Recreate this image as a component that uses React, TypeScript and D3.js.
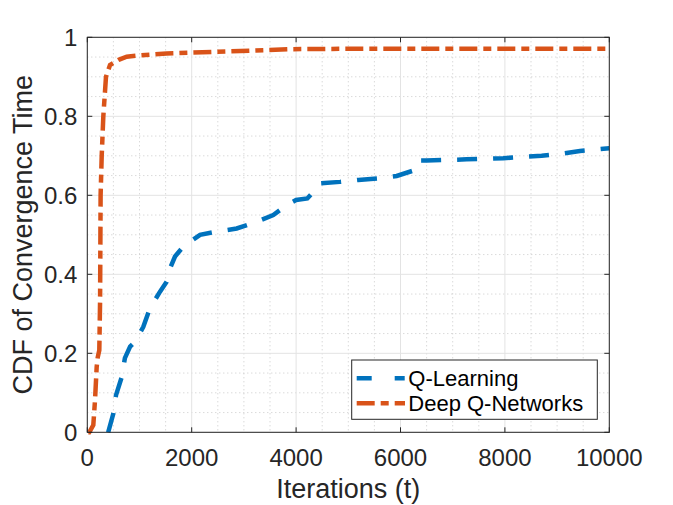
import * as d3 from 'd3';

const W = 673;
const H = 505;

// Q-Learning CDF (iterations, cdf)
const qlIter = [400, 500, 550, 660, 720, 820, 915, 1073, 1200, 1393, 1520, 1552, 1600, 1680, 1839, 2160, 2479, 2862, 3245, 3563, 3818, 4000, 4215, 4330, 4445, 4841, 5192, 5575, 5927, 6278, 6341, 6500, 7267, 7969, 8704, 9119, 9438, 10000];
const qlCdf = [0, 0.048, 0.094, 0.14, 0.188, 0.217, 0.229, 0.267, 0.314, 0.356, 0.381, 0.394, 0.42, 0.445, 0.47, 0.5, 0.508, 0.516, 0.533, 0.55, 0.575, 0.588, 0.592, 0.609, 0.63, 0.634, 0.639, 0.643, 0.649, 0.664, 0.688, 0.688, 0.691, 0.694, 0.7, 0.706, 0.712, 0.719];

// Deep Q-Networks CDF
const dqnIter = [20, 38, 115, 148, 180, 200, 230, 245, 255, 276, 307, 358, 435, 600, 755, 1000, 1520, 2670, 3940, 5000, 10000];
const dqnCdf = [0, 0, 0.018, 0.082, 0.166, 0.19, 0.208, 0.335, 0.6, 0.7, 0.8, 0.9, 0.93, 0.943, 0.951, 0.954, 0.959, 0.964, 0.97, 0.971, 0.971];

const xTicks = [0, 2000, 4000, 6000, 8000, 10000];
const yTicks = [0, 0.2, 0.4, 0.6, 0.8, 1];
const seriesNames = ['Q-Learning', 'Deep Q-Networks'];

const FONT = '"Liberation Sans", Arial, Helvetica, sans-serif';
const AXIS = '#262626';

export default function App() {
  const left = 87.3, right = 609.3, top = 37.3, bottom = 432.3;
  const x = d3.scaleLinear().domain([0, 10000]).range([left, right]);
  const y = d3.scaleLinear().domain([0, 1]).range([bottom, top]);

  const xMinor = d3.range(0, 10001, 500).filter(v => v % 2000 !== 0);
  const yMinor = d3.range(0, 21).map(i => i * 0.05).filter((v, i) => i % 4 !== 0);

  const line = d3.line<[number, number]>().x(d => x(d[0])).y(d => y(d[1]));
  const qlPath = line(qlIter.map((t, i) => [t, qlCdf[i]]))!;
  const dqnPath = line(dqnIter.map((t, i) => [t, dqnCdf[i]]))!;

  const lg = { x0: 351.7, y0: 360, x1: 597.3, y1: 419.3 };

  return (
    <svg width={W} height={H} style={{ position: 'absolute', left: 0, top: 0, background: '#fff' }}>
      <rect x={0} y={0} width={W} height={H} fill="#fff" />
      {/* minor grid */}
      <g stroke="#bdbdbd" strokeWidth={0.8} strokeDasharray="1,3">
        {xMinor.map(v => <line key={'xm' + v} x1={x(v)} x2={x(v)} y1={top} y2={bottom} />)}
        {yMinor.map(v => <line key={'ym' + v} x1={left} x2={right} y1={y(v)} y2={y(v)} />)}
      </g>
      {/* major grid */}
      <g stroke="#e3e3e3" strokeWidth={1}>
        {xTicks.map(v => <line key={'xg' + v} x1={x(v)} x2={x(v)} y1={top} y2={bottom} />)}
        {yTicks.map(v => <line key={'yg' + v} x1={left} x2={right} y1={y(v)} y2={y(v)} />)}
      </g>
      {/* series */}
      <path d={qlPath} fill="none" stroke="#0072BD" strokeWidth={4.5} strokeDasharray="20,16" />
      <path d={dqnPath} fill="none" stroke="#D95319" strokeWidth={4.5} strokeDasharray="18,6,8,6" />
      {/* box and ticks */}
      <rect x={left} y={top} width={right - left} height={bottom - top} fill="none" stroke={AXIS} strokeWidth={1} />
      <g stroke={AXIS} strokeWidth={1}>
        {xTicks.map(v => (
          <g key={'xt' + v}>
            <line x1={x(v)} x2={x(v)} y1={bottom} y2={bottom - 5} />
            <line x1={x(v)} x2={x(v)} y1={top} y2={top + 5} />
          </g>
        ))}
        {yTicks.map(v => (
          <g key={'yt' + v}>
            <line x1={left} x2={left + 5} y1={y(v)} y2={y(v)} />
            <line x1={right} x2={right - 5} y1={y(v)} y2={y(v)} />
          </g>
        ))}
      </g>
      <g fontFamily={FONT} fontSize={24} fill={AXIS}>
        {xTicks.map(v => (
          <text key={'xl' + v} x={x(v)} y={466} textAnchor="middle">{String(v)}</text>
        ))}
        {yTicks.map(v => (
          <text key={'yl' + v} x={left - 10} y={y(v) + 8.5} textAnchor="end">{String(v)}</text>
        ))}
      </g>
      <text x={(left + right) / 2} y={498} textAnchor="middle" fontFamily={FONT} fontSize={27} fill={AXIS}>Iterations (t)</text>
      <text transform={`translate(32,${(top + bottom) / 2}) rotate(-90)`} textAnchor="middle" fontFamily={FONT} fontSize={27} fill={AXIS}>CDF of Convergence Time</text>
      {/* legend */}
      <rect x={lg.x0} y={lg.y0} width={lg.x1 - lg.x0} height={lg.y1 - lg.y0} fill="#fff" stroke={AXIS} strokeWidth={1} />
      <line x1={356.7} x2={405} y1={378.3} y2={378.3} stroke="#0072BD" strokeWidth={4.5} strokeDasharray="15,23,10" />
      <line x1={356.7} x2={405} y1={403.3} y2={403.3} stroke="#D95319" strokeWidth={4.5} strokeDasharray="18,6,8,6" />
      <g fontFamily={FONT} fontSize={22} fill="#000">
        <text x={408.3} y={386}>{seriesNames[0]}</text>
        <text x={408.3} y={411}>{seriesNames[1]}</text>
      </g>
    </svg>
  );
}
